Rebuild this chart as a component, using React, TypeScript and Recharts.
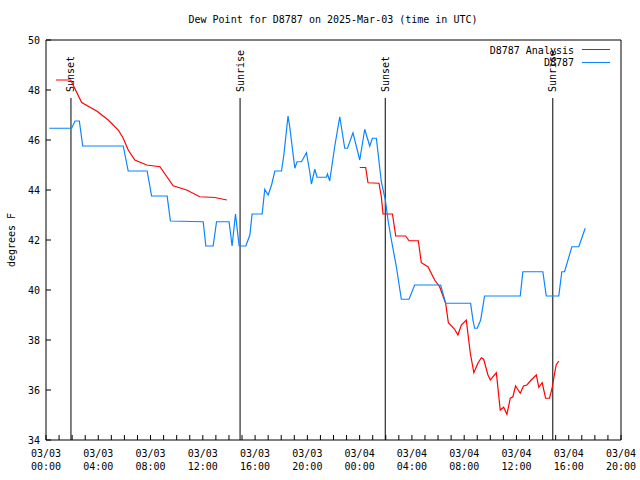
import { LineChart, XAxis, YAxis, Line, ReferenceLine } from 'recharts';

// hours since 03/03 00:00 UTC
const analysisTimes = [
  0.76, 1.89, 2.73, 3.88, 4.76, 5.53, 5.91, 6.29, 6.8, 7.7, 8.72, 9.73, 10.76, 11.77, 12.92, 13.84,
  18.9,
  24.01, 24.46, 24.64, 25.48, 25.66, 25.79, 26.51, 26.76, 27.52, 27.78, 28.49, 28.72, 29.23, 29.74,
  30.12, 30.58, 30.79, 31.27, 31.52, 31.78, 32.16, 32.47, 32.74, 33.05, 33.31, 33.49, 33.82, 34.0,
  34.46, 34.76, 35.02, 35.27, 35.53, 35.73, 35.93, 36.29, 36.54, 36.8, 37.13, 37.52, 37.71, 37.97,
  38.23, 38.53, 38.74, 38.91, 39.04, 39.24,
];
const analysisDew = [
  48.4, 48.4, 47.5, 47.16, 46.8, 46.4, 46.07, 45.6, 45.2, 45.0, 44.93, 44.17, 44.0, 43.73, 43.7, 43.6,
  null,
  44.9, 44.9, 44.29, 44.27, 43.73, 43.04, 43.04, 42.16, 42.16, 41.97, 41.97, 41.09, 40.93, 40.4,
  40.13, 39.47, 38.69, 38.43, 38.2, 38.6, 38.8, 37.47, 36.69, 37.07, 37.29, 37.23, 36.6, 36.4,
  36.69, 35.2, 35.31, 35.03, 35.67, 35.73, 36.16, 35.87, 36.16, 36.2, 36.4, 36.6, 36.11, 36.29,
  35.67, 35.67, 36.1, 36.64, 37.0, 37.16,
];

const stationTimes = [
  0.25, 1.96, 2.22, 2.55, 2.81, 5.91, 6.29, 7.74, 8.08, 9.27, 9.52, 12.03, 12.23, 12.79, 13.05, 14.01,
  14.24, 14.5, 14.78, 15.29, 15.6, 15.77, 16.54, 16.74, 17.0, 17.26, 17.51, 18.02, 18.2, 18.52, 18.65,
  19.04, 19.21, 19.55, 19.93, 20.18, 20.31, 20.57, 20.74, 21.46, 21.54, 21.71, 22.09, 22.48, 22.86,
  23.07, 23.49, 24.01, 24.39, 24.77, 24.98, 25.28, 25.66, 25.97, 26.17, 26.43, 26.81, 27.19, 27.78,
  28.21, 30.2, 30.58, 32.49, 32.67, 32.8, 33.0, 33.26, 33.56, 36.29, 36.49, 38.02, 38.28, 39.24,
  39.47, 39.68, 40.24, 40.77, 41.26,
];
const stationDew = [
  46.47, 46.47, 46.76, 46.76, 45.76, 45.76, 44.76, 44.76, 43.76, 43.76, 42.76, 42.73, 41.76, 41.76,
  42.73, 42.73, 41.76, 43.04, 41.76, 41.76, 42.2, 43.04, 43.04, 44.03, 43.8, 44.2, 44.76, 44.76, 45.4,
  46.96, 46.53, 44.87, 45.13, 45.13, 45.49, 44.73, 44.24, 44.83, 44.51, 44.51, 44.64, 44.36, 45.73,
  46.93, 45.67, 45.67, 46.29, 45.2, 46.43, 45.76, 46.07, 46.07, 44.33, 43.6, 42.8, 42.0, 40.93, 39.63,
  39.63, 40.2, 40.2, 39.47, 39.47, 38.8, 38.47, 38.47, 38.8, 39.76, 39.76, 40.73, 40.73, 39.76, 39.76,
  40.73, 40.73, 41.73, 41.73, 42.47,
];

const sunTimes = [1.91, 14.85, 25.96, 38.78];
const sunLabels = ['Sunset', 'Sunrise', 'Sunset', 'Sunrise'];
const sunLineTop = 47.68;

const tickDates = ['03/03', '03/03', '03/03', '03/03', '03/03', '03/03', '03/04', '03/04', '03/04', '03/04', '03/04', '03/04'];
const tickTimes = ['00:00', '04:00', '08:00', '12:00', '16:00', '20:00', '00:00', '04:00', '08:00', '12:00', '16:00', '20:00'];
const hourTicks = Array.from({ length: 45 }, (_, i) => i);
const dewTicks = [34, 36, 38, 40, 42, 44, 46, 48, 50];

const analysisData = analysisTimes.map((t, i) => ({ t, v: analysisDew[i] }));
const stationData = stationTimes.map((t, i) => ({ t, v: stationDew[i] }));

const FONT = '"DejaVu Sans Mono", monospace';
const RED = '#ff0000';
const BLUE = '#0a84ff';

function BottomTick({ x, y, payload }: any) {
  const i = payload.value / 4;
  const major = Number.isInteger(i);
  return (
    <g>
      <line x1={x} x2={x} y1={y} y2={y - 5} stroke="#000" />
      {major && (
        <text x={x} y={y + 17} textAnchor="middle" fontSize={10} fontFamily={FONT} fill="#000">
          {tickDates[i]}
        </text>
      )}
      {major && (
        <text x={x} y={y + 30} textAnchor="middle" fontSize={10} fontFamily={FONT} fill="#000">
          {tickTimes[i]}
        </text>
      )}
    </g>
  );
}

function TopTick({ x, y }: any) {
  return <line x1={x} x2={x} y1={y} y2={y + 5} stroke="#000" />;
}

function LeftTick({ x, y, payload }: any) {
  return (
    <g>
      <line x1={x} x2={x + 5} y1={y} y2={y} stroke="#000" />
      <text x={x - 6} y={y} dy="0.35em" textAnchor="end" fontSize={10} fontFamily={FONT} fill="#000">
        {payload.value}
      </text>
    </g>
  );
}

function RightTick({ x, y }: any) {
  return <line x1={x} x2={x - 5} y1={y} y2={y} stroke="#000" />;
}

function sunLabel(text: string) {
  return (props: any) => {
    const vb = props.viewBox;
    const x = vb.x;
    const y = vb.y - 6;
    return (
      <text
        x={x}
        y={y}
        dy="0.35em"
        transform={`rotate(-90 ${x} ${y})`}
        textAnchor="start"
        fontSize={10}
        fontFamily={FONT}
        fill="#000"
      >
        {text}
      </text>
    );
  };
}

export default function App() {
  return (
    <div style={{ position: 'absolute', left: 0, top: 0, width: 640, height: 480, background: '#fff' }}>
      <LineChart width={640} height={480} margin={{ top: 30, right: 9, bottom: 5, left: 6 }}>
        <XAxis
          dataKey="t"
          type="number"
          domain={[0, 44]}
          ticks={hourTicks}
          interval={0}
          height={35}
          tickSize={0}
          tickMargin={0}
          tickLine={false}
          axisLine={{ stroke: '#000' }}
          tick={<BottomTick />}
        />
        <XAxis
          xAxisId="top"
          orientation="top"
          dataKey="t"
          type="number"
          domain={[0, 44]}
          ticks={hourTicks}
          interval={0}
          height={10}
          tickSize={0}
          tickMargin={0}
          tickLine={false}
          axisLine={{ stroke: '#000' }}
          tick={<TopTick />}
        />
        <YAxis
          type="number"
          domain={[34, 50]}
          ticks={dewTicks}
          interval={0}
          width={40}
          tickSize={0}
          tickMargin={0}
          tickLine={false}
          axisLine={{ stroke: '#000' }}
          tick={<LeftTick />}
        />
        <YAxis
          yAxisId="right"
          orientation="right"
          type="number"
          domain={[34, 50]}
          ticks={dewTicks}
          interval={0}
          width={10}
          tickSize={0}
          tickMargin={0}
          tickLine={false}
          axisLine={{ stroke: '#000' }}
          tick={<RightTick />}
        />
        {sunTimes.map((t, i) => (
          <ReferenceLine
            key={i}
            segment={[
              { x: t, y: 34 },
              { x: t, y: sunLineTop },
            ]}
            stroke="#000"
            strokeWidth={1}
            label={sunLabel(sunLabels[i])}
          />
        ))}
        <Line
          data={analysisData}
          dataKey="v"
          type="linear"
          stroke={RED}
          strokeWidth={1.2}
          dot={false}
          activeDot={false}
          connectNulls={false}
          isAnimationActive={false}
        />
        <Line
          data={stationData}
          dataKey="v"
          type="linear"
          stroke={BLUE}
          strokeWidth={1.2}
          dot={false}
          activeDot={false}
          isAnimationActive={false}
        />
      </LineChart>
      <svg width={640} height={480} style={{ position: 'absolute', left: 0, top: 0, pointerEvents: 'none' }}>
        <text x={333} y={23} textAnchor="middle" fontSize={10} fontFamily={FONT} fill="#000">
          Dew Point for D8787 on 2025-Mar-03 (time in UTC)
        </text>
        <text
          x={11}
          y={240}
          dy="0.35em"
          transform="rotate(-90 11 240)"
          textAnchor="middle"
          fontSize={10}
          fontFamily={FONT}
          fill="#000"
        >
          degrees F
        </text>
        <text x={574} y={50} dy="0.35em" textAnchor="end" fontSize={10} fontFamily={FONT} fill="#000">
          D8787 Analysis
        </text>
        <line x1={582} x2={610} y1={49.5} y2={49.5} stroke={RED} strokeWidth={1} />
        <text x={574} y={62} dy="0.35em" textAnchor="end" fontSize={10} fontFamily={FONT} fill="#000">
          D8787
        </text>
        <line x1={582} x2={610} y1={62.5} y2={62.5} stroke={BLUE} strokeWidth={1} />
      </svg>
    </div>
  );
}
